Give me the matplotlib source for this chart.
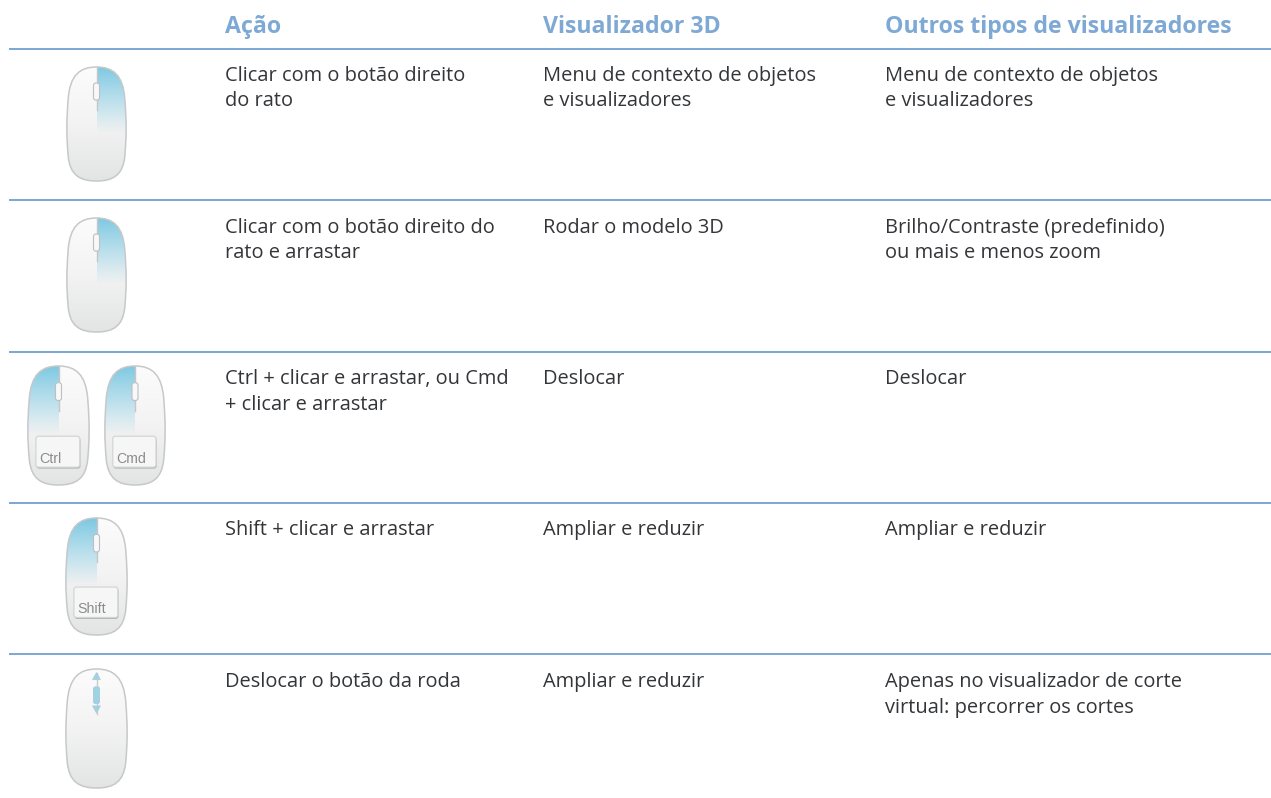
"""
Mouse action table, drawn on a full-figure axes in pixel units.
"""

import numpy as np

import matplotlib
matplotlib.use("Agg")

import matplotlib.pyplot as plt
from matplotlib.patches import FancyBboxPatch, PathPatch, Polygon, Rectangle
from matplotlib.path import Path
from matplotlib.colors import LinearSegmentedColormap, to_rgb


# ============================================================
# DATA
# ============================================================

headers = ["Ação", "Visualizador 3D", "Outros tipos de visualizadores"]

actions = [
    "Clicar com o botão direito\ndo rato",
    "Clicar com o botão direito do\nrato e arrastar",
    "Ctrl + clicar e arrastar, ou Cmd\n+ clicar e arrastar",
    "Shift + clicar e arrastar",
    "Deslocar o botão da roda",
]
viewer_3d = [
    "Menu de contexto de objetos\ne visualizadores",
    "Rodar o modelo 3D",
    "Deslocar",
    "Ampliar e reduzir",
    "Ampliar e reduzir",
]
viewer_other = [
    "Menu de contexto de objetos\ne visualizadores",
    "Brilho/Contraste (predefinido)\nou mais e menos zoom",
    "Deslocar",
    "Ampliar e reduzir",
    "Apenas no visualizador de corte\nvirtual: percorrer os cortes",
]

# (left, top, right, bottom, highlighted side, key label)
mice = [
    (67, 67, 126, 181, "right", None),
    (67, 218, 126, 332, "right", None),
    (28, 366, 89, 485, "left", "Ctrl"),
    (105, 366, 165, 485, "left", "Cmd"),
    (66, 518, 127, 635, "left", "Shift"),
    (66, 669, 127, 788, "wheel", None),
]

rule_y = [49, 200, 352, 503, 654]
baseline_y = [81, 233, 384, 535, 687]
col_x = [225, 543, 885]

# ============================================================
# STYLE
# ============================================================

HEAD_COLOR = "#7FA9D5"
RULE_COLOR = "#7FA9D5"
TEXT_COLOR = "#333538"
BLUE = "#7CC8E2"
FONT = "Open Sans"

plt.rcParams["font.family"] = [FONT, "DejaVu Sans"]

fade = LinearSegmentedColormap.from_list("fade", ["#FCFCFC", "#F3F3F3", "#E3E4E4"])
blue_rgb = to_rgb(BLUE)


def mouse_path(l, t, r, b):
    """Rounded mouse outline, built in the box l,t,r,b."""
    w = r - l
    h = b - t
    pts = [
        (0.50, 0.0),
        (0.78, 0.0), (0.95, 0.07), (0.98, 0.28),
        (1.01, 0.48), (1.01, 0.60), (0.98, 0.78),
        (0.95, 0.95), (0.78, 1.0), (0.50, 1.0),
        (0.22, 1.0), (0.05, 0.95), (0.02, 0.78),
        (-0.01, 0.60), (-0.01, 0.48), (0.02, 0.28),
        (0.05, 0.07), (0.22, 0.0), (0.50, 0.0),
    ]
    verts = [(l + x * w, t + y * h) for x, y in pts]
    codes = [Path.MOVETO] + [Path.CURVE4] * 18
    return Path(verts, codes)


def draw_mouse(ax, l, t, r, b, side, key):
    w = r - l
    h = b - t
    cx = (l + r) / 2
    outline = mouse_path(l, t, r, b)

    body = ax.imshow(np.linspace(0, 1, 256).reshape(-1, 1), extent=(l, r, b, t),
                     cmap=fade, aspect="auto", zorder=2)
    body.set_clip_path(PathPatch(outline, transform=ax.transData))

    # highlighted button, fading downwards
    if side in ("left", "right"):
        rgba = np.zeros((256, 1, 4))
        rgba[:, :, :3] = blue_rgb
        rgba[:, 0, 3] = np.linspace(1, 0, 256)
        ext = (l, cx, t + 0.58 * h, t) if side == "left" else (cx, r, t + 0.58 * h, t)
        patch = ax.imshow(rgba, extent=ext, aspect="auto", zorder=3)
        patch.set_clip_path(PathPatch(outline, transform=ax.transData))

    ax.add_patch(PathPatch(outline, fc="none", ec="#C6C8C9", lw=1.1, zorder=5))

    if side == "wheel":
        ax.plot([cx, cx], [t + 0.03 * h, t + 0.38 * h], color="#C9CBCC", lw=1, zorder=4)
        ax.add_patch(FancyBboxPatch((cx - 3, t + 0.15 * h), 6, 0.14 * h,
                                    boxstyle="round,pad=0,rounding_size=2",
                                    fc="#9AD4E8", ec="#B5C9D2", lw=0.7, zorder=6))
        for tip, base in [(t + 0.03 * h, t + 0.09 * h), (t + 0.37 * h, t + 0.31 * h)]:
            ax.add_patch(Polygon([(cx, tip), (cx - 4, base), (cx + 4, base)],
                                 fc="#9AD4E8", ec="#B5C9D2", lw=0.5, zorder=6))
    else:
        # divider and wheel
        ax.plot([cx, cx], [t, t + 0.38 * h], color="#C4C6C7", lw=1, zorder=4)
        ax.add_patch(FancyBboxPatch((cx - 3, t + 0.14 * h), 6, 0.15 * h,
                                    boxstyle="round,pad=0,rounding_size=2.5",
                                    fc="#F8F8F8", ec="#BDBFC0", lw=0.8, zorder=6))

    if key:
        kl, kr = l + 0.13 * w, r - 0.15 * w
        kt, kb = t + 0.59 * h, t + 0.85 * h
        ax.add_patch(FancyBboxPatch((kl + 0.6, kt + 1.5), kr - kl, kb - kt,
                                    boxstyle="round,pad=0,rounding_size=2.5",
                                    fc="#B4B6B7", ec="none", zorder=6))
        ax.add_patch(FancyBboxPatch((kl, kt), kr - kl, kb - kt,
                                    boxstyle="round,pad=0,rounding_size=2.5",
                                    fc="#F6F6F6", ec="#D0D2D3", lw=0.8, zorder=7))
        ax.text(kl + 3, kb - 4, key, fontsize=10.2, color="#8A8C8E",
                ha="left", va="baseline", family="Liberation Sans", zorder=8)


# ============================================================
# FIGURE
# ============================================================

fig = plt.figure(figsize=(12.71, 7.98), dpi=100)
ax = fig.add_axes([0, 0, 1, 1])

for x, label in zip(col_x, headers):
    ax.text(x, 33, label, fontsize=16.7, fontweight="bold", color=HEAD_COLOR,
            ha="left", va="baseline")

for y in rule_y:
    ax.add_patch(Rectangle((9, y - 1), 1262, 2.4, fc=RULE_COLOR, ec="none", zorder=1))

for y, a, v, o in zip(baseline_y, actions, viewer_3d, viewer_other):
    for x, s in zip(col_x, (a, v, o)):
        for i, line in enumerate(s.split("\n")):
            ax.text(x, y + i * 25.5, line, fontsize=14.4, color=TEXT_COLOR,
                    ha="left", va="baseline")

for l, t, r, b, side, key in mice:
    draw_mouse(ax, l, t, r, b, side, key)

ax.set_xlim(0, 1271)
ax.set_ylim(798, 0)
ax.axis("off")

fig.savefig("out.png", dpi=100, facecolor="white")
plt.close(fig)
